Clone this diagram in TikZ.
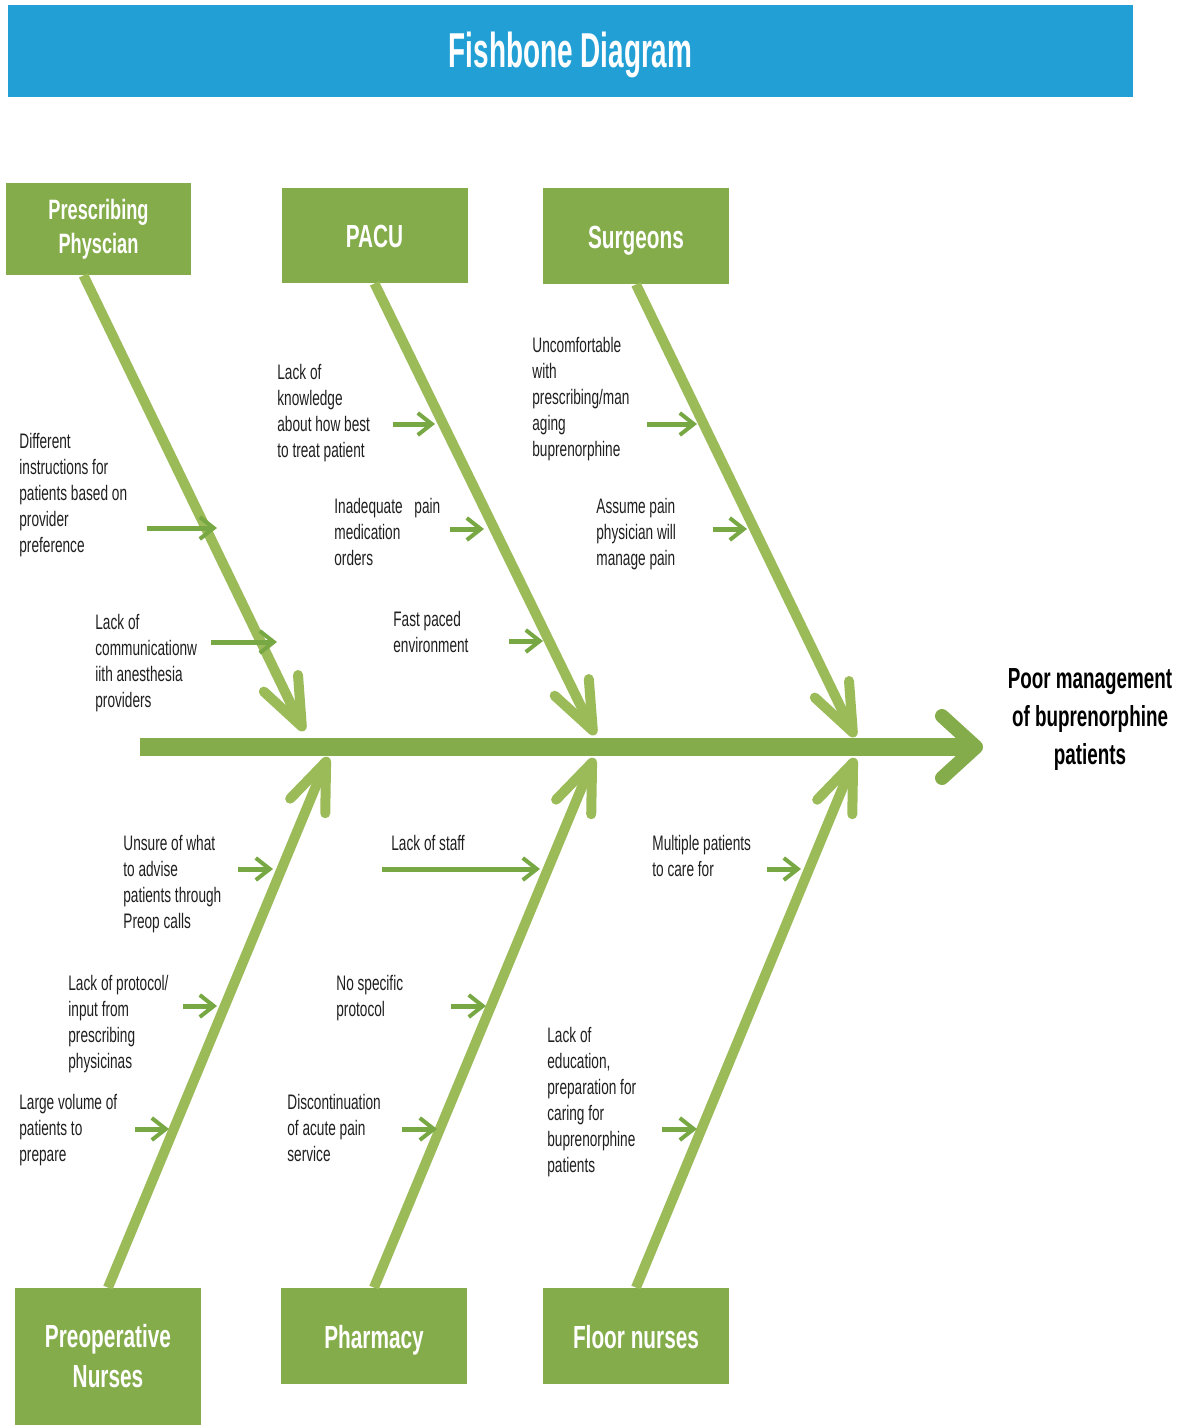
\documentclass[tikz,border=0pt]{standalone}
\usepackage{fontspec}
\setmainfont{Liberation Sans}[FakeStretch=0.65]
\newfontfamily\titlefont{Liberation Sans}[FakeStretch=0.57]
\usetikzlibrary{arrows.meta, positioning}
\definecolor{cbar}{HTML}{22A0D6}
\definecolor{cbox}{HTML}{84AC4A}
\definecolor{cbone}{HTML}{9BBB59}
\definecolor{cspine}{HTML}{84AC4A}
\definecolor{ccause}{HTML}{77A844}
\tikzset{
  cat/.style={fill=cbox, text=white, align=center, inner sep=0pt, minimum width=93pt, minimum height=48pt, font=\bfseries\fontsize{16}{20}\selectfont},
  catline/.style={cat, text height=12.4pt, text depth=0pt},
  bone/.style={draw=cbone, line width=5pt, -{Straight Barb[length=24pt, width=19pt, round]}},
  spine/.style={draw=cspine, line width=9pt, -{Straight Barb[length=17pt, width=31pt, line width=7pt, round]}},
  cause/.style={draw=ccause, line width=2.5pt, -{Straight Barb[length=7pt, width=11pt, line width=2pt]}},
  lbl/.style={anchor=north west, inner sep=0pt, align=left, text=black!88, font=\fontsize{10.5}{13}\selectfont},
}
\begin{document}
\begin{tikzpicture}[x=0.5pt, y=-0.5pt]
  \useasboundingbox (0,0) rectangle (1181,1425);
  % title bar
  \node[fill=cbar, text=white, minimum width=562.5pt, minimum height=46pt, inner sep=0pt,
        text height=16.5pt, text depth=0pt,
        font=\titlefont\bfseries\fontsize{24.5}{28}\selectfont] (title) at (570.5,51) {Fishbone Diagram};

  % categories
  \node[cat, minimum width=92.5pt, minimum height=46pt, font=\bfseries\fontsize{14}{17}\selectfont] (pp) at (98.5,229) {Prescribing\\Physcian};
  \node[catline, minimum height=47.5pt] (pacu) at (374.5,235.5) {PACU};
  \node[catline] (surg) at (636,236) {Surgeons};
  \node[cat, minimum height=68.5pt, font=\bfseries\fontsize{16}{20}\selectfont] (pn) at (108,1356.5) {Preoperative\\Nurses};
  \node[catline] (phar) at (374,1336) {Pharmacy};
  \node[catline] (floor) at (636,1336) {Floor nurses};

  % effect
  \node[align=center, inner sep=0pt, font=\bfseries\fontsize{14.5}{19}\selectfont] (effect) at (1090,720) {Poor management\\of buprenorphine\\patients};

  % spine and bones
  \coordinate (tail) at (140,747);
  \coordinate (head) at (983,747);
  \draw[spine] (tail) -- (head);
  \coordinate (t1) at (304,731);
  \coordinate (t2) at (595,735);
  \coordinate (t3) at (855,737);
  \coordinate (t4) at (328,757);
  \coordinate (t5) at (594,758);
  \coordinate (t6) at (855,758);
  \draw[bone] ([xshift=-7.5pt]pp.south) -- (t1);
  \draw[bone] (pacu.south) -- (t2);
  \draw[bone] (surg.south) -- (t3);
  \draw[bone] (pn.north) -- (t4);
  \draw[bone] (phar.north) -- (t5);
  \draw[bone] (floor.north) -- (t6);

  % causes, top
  \node[lbl] (l1) at (19,433) {Different\\instructions for\\patients based on\\provider\\preference};
  \node[lbl] (l2) at (95,614) {Lack of\\communicationw\\iith anesthesia\\providers};
  \node[lbl] (l3) at (277,364) {Lack of\\knowledge\\about how best\\to treat patient};
  \node[lbl] (l4) at (334,498) {Inadequate\hspace{4pt} pain\\medication\\orders};
  \node[lbl] (l5) at (393,611) {Fast paced\\environment};
  \node[lbl] (l6) at (532,337) {Uncomfortable\\with\\prescribing/man\\aging\\buprenorphine};
  \node[lbl] (l7) at (596,498) {Assume pain\\physician will\\manage pain};
  \draw[cause] (147,528) -- (217,528);
  \draw[cause] (211,642) -- (277,642);
  \draw[cause] (393,424) -- (435,424);
  \draw[cause] (450,529) -- (484,529);
  \draw[cause] (509,641) -- (543,641);
  \draw[cause] (647,424) -- (697,424);
  \draw[cause] (713,529) -- (747,529);

  % causes, bottom
  \node[lbl] (l8) at (123,835) {Unsure of what\\to advise\\patients through\\Preop calls};
  \node[lbl] (l9) at (68,975) {Lack of protocol/\\input from\\prescribing\\physicinas};
  \node[lbl] (l10) at (19,1094) {Large volume of\\patients to\\prepare};
  \node[lbl] (l11) at (391,835) {Lack of staff};
  \node[lbl] (l12) at (336,975) {No specific\\protocol};
  \node[lbl] (l13) at (287,1094) {Discontinuation\\of acute pain\\service};
  \node[lbl] (l14) at (652,835) {Multiple patients\\to care for};
  \node[lbl] (l15) at (547,1027) {Lack of\\education,\\preparation for\\caring for\\buprenorphine\\patients};
  \draw[cause] (238,869) -- (273,869);
  \draw[cause] (183,1006) -- (217,1006);
  \draw[cause] (135,1129) -- (169,1129);
  \draw[cause] (382,869) -- (540,869);
  \draw[cause] (451,1006) -- (486,1006);
  \draw[cause] (402,1129) -- (437,1129);
  \draw[cause] (767,869) -- (801,869);
  \draw[cause] (662,1129) -- (697,1129);
\end{tikzpicture}
\end{document}
